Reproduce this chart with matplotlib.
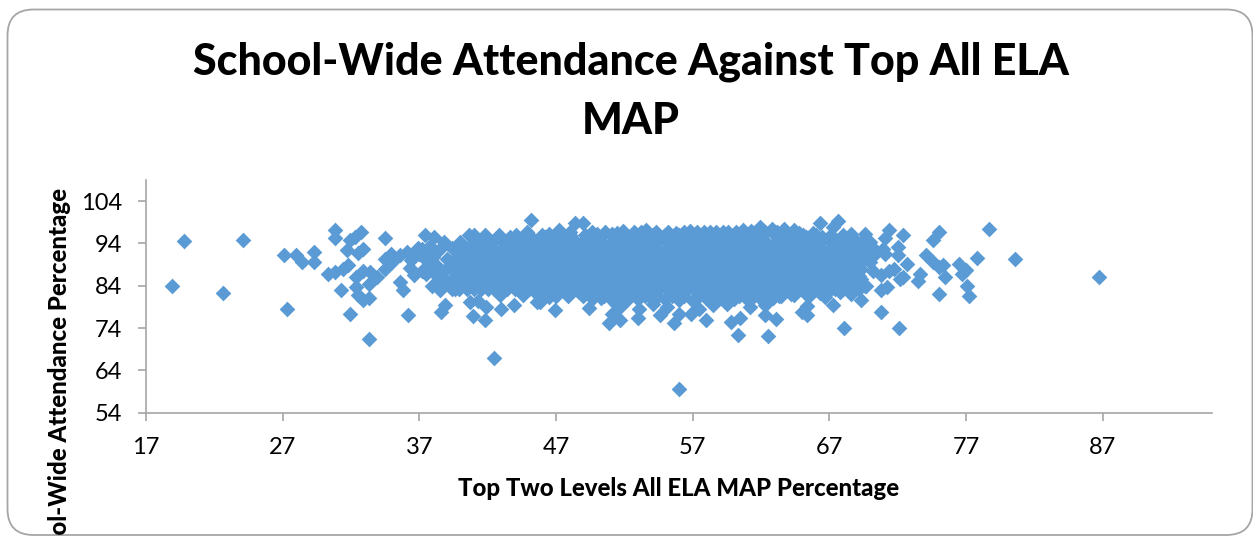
import matplotlib
matplotlib.use("Agg")
import matplotlib.pyplot as plt
from matplotlib.patches import FancyBboxPatch

W, H = 1253, 536
TITLE = "School-Wide Attendance Against Top All ELA\nMAP"
X_LABEL = "Top Two Levels All ELA MAP Percentage"
Y_LABEL = "School-Wide Attendance Percentage"
X_TICKS = [17, 27, 37, 47, 57, 67, 77, 87]
Y_TICKS = [54, 64, 74, 84, 94, 104]

# Individually readable points (left wing, edges, right wing, outliers)
left_x = [19.8, 24.1, 18.9, 22.6, 27.3, 27.1, 28.0, 28.4, 29.3, 29.3, 30.3, 30.8, 30.8, 30.8, 31.3, 31.9, 33.3,
          31.7, 31.9, 32.3, 32.7, 32.9, 32.5, 31.8, 31.4, 32.4, 32.9, 33.4, 33.9, 33.3, 32.4, 32.5, 32.9, 33.3,
          34.5, 34.5, 34.5, 35.0, 35.6, 35.8, 36.2, 36.1, 35.6, 36.4, 36.6, 36.3, 37.4, 37.2, 38.1, 38.8, 39.0,
          37.9, 37.5, 38.4, 37.9, 38.5, 38.9, 38.6, 39.4, 39.9, 40.7, 41.3, 41.9, 40.9, 41.8, 42.5, 43.0, 43.9,
          45.6, 45.2, 40.6, 41.0, 41.8, 42.8, 43.6, 44.9, 46.2, 42.9, 34.9, 37.0, 38.0,
          38.5, 39.4, 38.0, 37.5, 38.2, 37.2, 38.8, 39.0, 38.5, 37.8, 36.9]
left_y = [94.6, 94.8, 84.0, 82.3, 78.6, 91.3, 91.3, 89.6, 92.1, 89.6, 86.9, 87.3, 97.1, 95.3, 83.1, 77.3, 71.5,
          92.4, 94.9, 95.5, 96.7, 92.8, 91.7, 88.8, 88.0, 86.1, 87.6, 87.3, 86.1, 84.5, 83.6, 81.8, 80.7, 81.2,
          95.3, 90.4, 88.0, 89.6, 84.9, 83.1, 77.2, 92.0, 91.2, 90.0, 86.6, 88.3, 95.9, 92.8, 95.5, 94.3, 90.4,
          88.0, 86.9, 86.1, 83.9, 82.9, 79.4, 77.7, 83.3, 83.3, 80.2, 80.4, 79.0, 76.8, 76.0, 66.9, 78.4, 79.4,
          80.2, 99.6, 96.0, 96.0, 95.9, 95.9, 95.6, 96.6, 95.5, 81.8, 91.5, 91.4, 92.0,
          92.6, 92.9, 90.8, 90.0, 89.0, 87.5, 87.6, 85.0, 84.3, 93.4, 93.0]

top_x = [47.2, 48.4, 49.0, 50.0, 51.1, 51.9, 53.6, 55.2, 56.8, 57.8, 58.7, 59.6, 60.7, 61.9, 62.8, 63.7, 64.4,
         66.3, 67.6, 67.3, 65.3, 66.5, 68.6, 69.6]
top_y = [97.3, 98.9, 98.8, 96.2, 96.3, 96.9, 97.3, 96.7, 96.9, 96.8, 96.7, 96.8, 97.1, 97.9, 97.5, 97.5, 97.1,
         98.8, 99.4, 97.9, 95.5, 95.5, 96.3, 96.3]

# Second row along the upper edge of the saturated band
upper_x = [46.5, 48.0, 49.6, 50.6, 51.5, 52.7, 53.2, 54.3, 55.8, 56.4, 57.3, 58.3, 59.2, 60.2, 61.3, 62.3, 63.2, 64.8, 65.8]
upper_y = [96.3, 96.8, 96.6, 96.7, 96.5, 96.6, 96.8, 96.6, 96.5, 96.8, 96.7, 96.6, 96.6, 96.8, 96.9, 96.7, 96.8, 96.4, 96.5]

bottom_x = [46.9, 49.4, 50.9, 51.7, 51.1, 51.7, 53.0, 54.6, 55.6, 56.0, 56.0, 56.9, 58.0, 58.5, 59.8, 60.5, 60.3,
            62.5, 63.1, 62.3, 61.2, 65.0, 65.4, 65.4, 67.3, 68.1, 69.3, 48.7, 46.5, 45.8, 49.7, 51.4, 53.1, 54.1,
            55.1, 57.5, 59.5, 64.4, 66.7, 68.6, 69.7, 67.8, 62.9, 62.3]
bottom_y = [78.2, 78.8, 75.1, 76.0, 77.4, 79.0, 76.4, 77.0, 75.2, 77.4, 59.7, 77.4, 75.9, 79.4, 75.5, 76.5, 72.3,
            72.2, 76.2, 77.2, 79.0, 77.7, 77.0, 79.2, 79.4, 74.0, 80.6, 82.5, 81.4, 80.2, 81.0, 79.8, 78.6, 79.8,
            79.0, 78.6, 79.8, 81.8, 81.4, 82.1, 83.9, 82.5, 81.0, 79.4]

# Second row along the lower edge of the saturated band
lower_x = [44.6, 45.6, 46.9, 48.0, 49.0, 50.3, 51.0, 52.2, 53.0, 54.0, 55.0, 56.0, 57.0, 58.0, 59.0, 60.0, 61.0, 62.0, 63.3, 64.2, 65.4, 66.3]
lower_y = [81.9, 82.0, 81.8, 82.3, 81.5, 81.2, 80.9, 80.6, 80.8, 81.0, 80.9, 80.6, 80.5, 81.0, 81.2, 80.8, 80.9, 80.8, 81.5, 82.0, 81.9, 82.2]

right_x = [78.7, 80.6, 86.7, 77.8, 76.5, 77.0, 76.7, 77.1, 77.2, 75.0, 75.5, 75.0, 75.3, 74.6, 74.1, 75.0, 74.6,
           73.6, 73.5, 72.7, 72.4, 72.2, 72.4, 72.1, 70.8, 71.2, 70.8, 69.6, 71.4, 71.1, 72.0, 70.9, 72.0, 71.4,
           70.8, 70.2, 70.2, 71.7, 71.1, 69.3]
right_y = [97.5, 90.4, 86.0, 90.6, 89.1, 87.8, 86.9, 84.0, 81.6, 82.1, 86.1, 88.4, 88.8, 89.6, 91.2, 96.7, 94.9,
           86.9, 85.1, 89.2, 86.1, 85.7, 96.1, 74.0, 77.7, 83.7, 83.1, 84.0, 97.1, 95.4, 93.2, 92.8, 91.2, 87.6,
           86.5, 87.6, 92.0, 88.0, 91.4, 85.5]

# Saturated core: the marks merge into solid colour, so x positions are estimated per attendance level
core_y_levels = [95.9, 94.4, 92.8, 91.2, 89.6, 88.0, 86.4, 84.8, 83.2, 81.6]
core_x_959 = [44.1, 45.0, 46.0, 47.1, 48.0, 49.1, 50.0, 51.0, 52.1, 53.0, 54.1, 55.0, 56.0, 57.1, 58.0, 59.1, 60.0, 61.0, 62.1, 63.0, 64.0, 65.1, 66.0, 67.1, 68.0]
core_x_944 = [41.2, 42.4, 43.5, 44.5, 45.5, 46.4, 47.5, 48.5, 49.5, 50.4, 51.5, 52.5, 53.5, 54.4, 55.5, 56.5, 57.5, 58.4, 59.5, 60.5, 61.5, 62.4, 63.5, 64.5, 65.5, 66.4, 67.5, 68.5, 69.4]
core_x_928 = [40.0, 41.0, 42.0, 43.1, 44.0, 45.0, 46.0, 47.1, 48.0, 49.0, 50.0, 51.1, 52.0, 53.0, 54.0, 55.1, 56.0, 57.0, 58.0, 59.1, 60.0, 61.0, 62.0, 63.1, 64.0, 65.0, 66.0, 67.1, 68.0, 69.0, 70.0]
core_x_912 = [40.4, 41.5, 42.5, 43.5, 44.4, 45.5, 46.5, 47.5, 48.4, 49.5, 50.5, 51.5, 52.4, 53.5, 54.5, 55.5, 56.4, 57.5, 58.5, 59.5, 60.4, 61.5, 62.5, 63.5, 64.4, 65.5, 66.5, 67.5, 68.4, 69.5, 70.3]
core_x_896 = [39.9, 41.0, 42.0, 43.0, 44.1, 45.0, 46.0, 47.0, 48.1, 49.0, 50.0, 51.0, 52.1, 53.0, 54.0, 55.0, 56.1, 57.0, 58.0, 59.0, 60.1, 61.0, 62.0, 63.0, 64.1, 65.0, 66.0, 67.0, 68.1, 69.0, 70.0]
core_x_880 = [39.4, 40.5, 41.5, 42.4, 43.5, 44.5, 45.5, 46.4, 47.5, 48.5, 49.5, 50.5, 51.5, 52.5, 53.5, 54.4, 55.5, 56.5, 57.5, 58.4, 59.5, 60.5, 61.5, 62.4, 63.5, 64.5, 65.5, 66.4, 67.5, 68.5, 69.3]
core_x_864 = [40.0, 41.0, 42.1, 43.0, 44.0, 45.0, 46.1, 47.0, 48.0, 49.0, 50.1, 51.0, 52.0, 53.0, 54.1, 55.0, 56.0, 57.0, 58.1, 59.0, 60.0, 61.0, 62.1, 63.0, 64.0, 65.0, 66.1, 67.0, 68.0, 69.0]
core_x_848 = [39.6, 40.5, 41.5, 42.5, 43.4, 44.5, 45.5, 46.5, 47.4, 48.5, 49.5, 50.5, 51.4, 52.5, 53.5, 54.5, 55.4, 56.5, 57.5, 58.5, 59.4, 60.5, 61.5, 62.5, 63.4, 64.5, 65.5, 66.5, 67.4, 68.5, 69.2]
core_x_832 = [41.0, 42.0, 43.1, 44.0, 45.0, 46.0, 47.1, 48.0, 49.0, 50.0, 51.1, 52.0, 53.0, 54.0, 55.1, 56.0, 57.0, 58.0, 59.1, 60.0, 61.0, 62.0, 63.1, 64.0, 65.0, 66.0, 67.1, 68.0]
core_x_816 = [47.0, 47.9, 49.5, 50.5, 51.5, 52.4, 53.5, 54.5, 55.5, 56.4, 57.5, 58.5, 59.5, 60.4, 61.5, 62.5, 63.5, 65.5]

core_columns = [core_x_959, core_x_944, core_x_928, core_x_912, core_x_896,
                core_x_880, core_x_864, core_x_848, core_x_832, core_x_816]

BLUE = "#5B9BD5"
GREY = "#A6A6A6"

plt.rcParams["font.family"] = ["Lato", "DejaVu Sans"]
fig = plt.figure(figsize=(W / 100, H / 100), dpi=100, facecolor="white")

bg = fig.add_axes([0, 0, 1, 1], zorder=0)
bg.set_xlim(0, W)
bg.set_ylim(H, 0)
bg.axis("off")
r = 26
bg.add_patch(FancyBboxPatch((7.5 + r, 9.5 + r), 1245 - 2 * r, 525.5 - 2 * r,
                            boxstyle=f"round,pad={r},rounding_size={r}",
                            fc="white", ec=GREY, lw=1.3, clip_on=True))

ax = fig.add_axes([146 / W, (H - 412.7) / H, (1212 - 146) / W, (412.7 - 180) / H], zorder=1)
ax.patch.set_alpha(0)
ax.set_xlim(17, 95)
ax.set_ylim(54, 109)

kw = dict(marker="D", s=64, c=BLUE, linewidths=0, clip_on=False)
for i, (xs, level) in enumerate(zip(core_columns, core_y_levels)):
    ax.scatter(xs, [level] * len(xs), **kw)
    if i >= 1 and i + 2 < len(core_columns):
        ax.scatter(core_columns[i + 1], [level] * len(core_columns[i + 1]), **kw)
    if i + 2 == len(core_columns):
        ax.scatter(core_columns[i - 1], [level] * len(core_columns[i - 1]), **kw)
ax.scatter(left_x, left_y, **kw)
ax.scatter(top_x, top_y, **kw)
ax.scatter(upper_x, upper_y, **kw)
ax.scatter(bottom_x, bottom_y, **kw)
ax.scatter(lower_x, lower_y, **kw)
ax.scatter(right_x, right_y, **kw)

for s in ("top", "right"):
    ax.spines[s].set_visible(False)
for s in ("left", "bottom"):
    ax.spines[s].set_color(GREY)
    ax.spines[s].set_linewidth(1.2)
ax.set_xticks(X_TICKS)
ax.set_yticks(Y_TICKS)
ax.tick_params(axis="x", length=5.5, width=1.2, color=GREY, labelsize=17, labelcolor="black", pad=12)
ax.tick_params(axis="y", length=5.5, width=1.2, color=GREY, labelsize=17, labelcolor="black", pad=12)

fig.text(631 / W, 1 - 91 / H, TITLE, ha="center", va="center", fontsize=31, fontweight="black",
         color="black", linespacing=1.58)
fig.text(679 / W, 1 - 488 / H, X_LABEL, ha="center", va="center", fontsize=17.3, fontweight="black", color="black")
fig.text(60 / W, 1 - 188 / H, Y_LABEL, ha="center", va="top", rotation=90, fontsize=17.3, fontweight="black", color="black")

fig.savefig("out.png", dpi=100)
